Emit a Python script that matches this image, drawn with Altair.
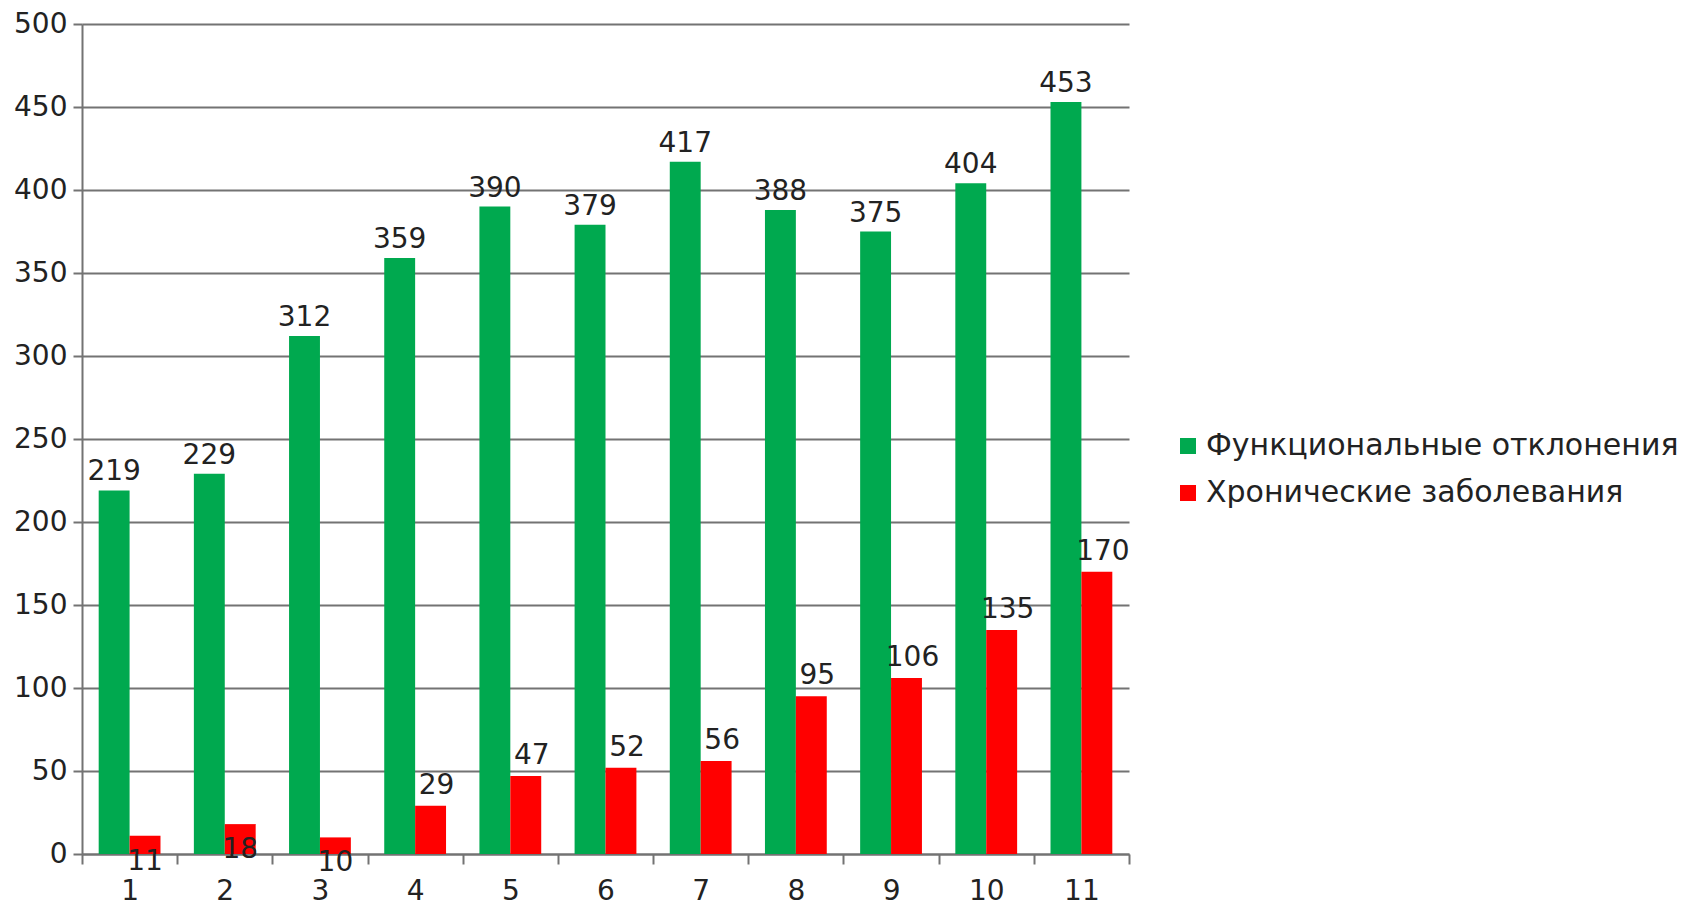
import altair as alt
import pandas as pd

# Age groups on the x axis and the two counts per group
groups = [str(i) for i in range(1, 12)]
functional = [219, 229, 312, 359, 390, 379, 417, 388, 375, 404, 453]
chronic = [11, 18, 10, 29, 47, 52, 56, 95, 106, 135, 170]
series_names = ["Функциональные отклонения", "Хронические заболевания"]
series_colors = ["#00A94F", "#FF0000"]
y_ticks = list(range(0, 501, 50))

rows = []
for g, f, c in zip(groups, functional, chronic):
    rows.append({"group": g, "series": series_names[0], "value": f})
    rows.append({"group": g, "series": series_names[1], "value": c})
df = pd.DataFrame(rows)

FONT = "DejaVu Sans"
GRID = "#737373"
TEXT = "#222222"

x_enc = alt.X(
    "group:N",
    sort=groups,
    scale=alt.Scale(paddingInner=0, paddingOuter=0),
    axis=alt.Axis(
        title=None,
        labelAngle=0,
        tickBand="extent",
        grid=False,
        domainColor=GRID,
        domainWidth=2,
        tickColor=GRID,
        tickWidth=2,
        tickSize=10,
        labelPadding=13,
        labelFontSize=28,
        labelFont=FONT,
        labelColor=TEXT,
    ),
)
xoff_enc = alt.XOffset(
    "series:N",
    sort=series_names,
    scale=alt.Scale(paddingInner=0, paddingOuter=0.54),
)
y_enc = alt.Y(
    "value:Q",
    scale=alt.Scale(domain=[0, 500], nice=False),
    axis=alt.Axis(
        title=None,
        values=y_ticks,
        grid=True,
        gridColor=GRID,
        gridWidth=2,
        gridOpacity=1,
        domainColor=GRID,
        domainWidth=2,
        tickColor=GRID,
        tickWidth=2,
        tickSize=9,
        labelPadding=6,
        labelFontSize=28,
        labelFont=FONT,
        labelColor=TEXT,
    ),
)
color_enc = alt.Color(
    "series:N",
    scale=alt.Scale(domain=series_names, range=series_colors),
    legend=alt.Legend(
        title=None,
        orient="none",
        legendX=1091,
        legendY=407,
        padding=0,
        symbolType="square",
        symbolSize=256,
        symbolStrokeWidth=0,
        symbolOpacity=1,
        labelFontSize=30,
        labelFont=FONT,
        labelColor=TEXT,
        labelOffset=3,
        rowPadding=17,
        labelLimit=0,
    ),
)

base = alt.Chart(df).encode(x=x_enc, xOffset=xoff_enc, y=y_enc)

bars = base.mark_bar().encode(color=color_enc)

label_style = dict(font=FONT, fontSize=28, color=TEXT)

labels_functional = (
    base.transform_filter(alt.datum.series == series_names[0])
    .mark_text(baseline="alphabetic", dy=-10, **label_style)
    .encode(text="value:Q")
)
labels_chronic = (
    base.transform_filter(
        (alt.datum.series == series_names[1]) & (alt.datum.value >= 20)
    )
    .mark_text(baseline="alphabetic", dy=-12, dx=6, **label_style)
    .encode(text="value:Q")
)
labels_chronic_small = (
    base.transform_filter(
        (alt.datum.series == series_names[1]) & (alt.datum.value < 20)
    )
    .mark_text(baseline="top", dy=12, **label_style)
    .encode(text="value:Q")
)

chart = (
    alt.layer(bars, labels_functional, labels_chronic, labels_chronic_small)
    .properties(
        width=1047,
        height=830,
        autosize=alt.AutoSizeParams(type="none"),
        padding={"left": 82, "top": 24, "right": 552, "bottom": 52},
        background="white",
    )
    .configure_view(stroke=None)
)

chart.save("out.html", embed_options={"renderer": "svg", "actions": False})
